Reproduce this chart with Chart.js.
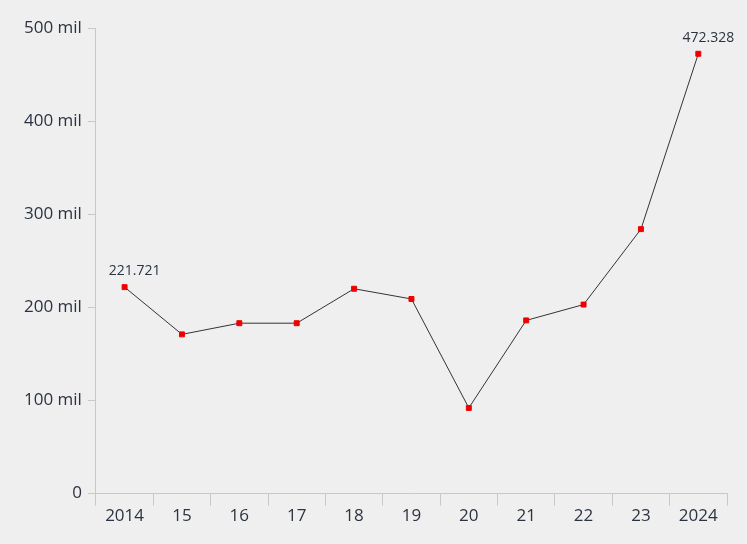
<!DOCTYPE html>
<html>
<head>
<meta charset="utf-8">
<script src="https://cdn.jsdelivr.net/npm/chart.js@4/dist/chart.umd.min.js"></script>
<style>
  html, body { margin: 0; padding: 0; background: #efefef; }
  #wrap { width: 747px; height: 544px; }
</style>
</head>
<body>
<div id="wrap"><canvas id="chart"></canvas></div>
<script>
// ===== Data =====
const years = ['2014', '15', '16', '17', '18', '19', '20', '21', '22', '23', '2024'];
const values = [221.721, 171, 183, 183, 220, 209, 92, 186, 203, 284, 472.328];
const yTicks = [0, 100, 200, 300, 400, 500];
const labelled = [0, 10];

// ===== Labels on first/last point =====
const pointLabels = {
    id: 'pointLabels',
    afterDatasetsDraw(chart) {
        const ctx = chart.ctx;
        const meta = chart.getDatasetMeta(0);
        ctx.save();
        ctx.font = '14px "Open Sans"';
        ctx.fillStyle = '#2b3340';
        ctx.textAlign = 'center';
        ctx.textBaseline = 'bottom';
        labelled.forEach(i => {
            const p = meta.data[i];
            ctx.fillText(values[i].toFixed(3), p.x + 10, p.y - 9);
        });
        ctx.restore();
    }
};

new Chart(document.getElementById('chart'), {
    type: 'line',
    data: {
        labels: years,
        datasets: [{
            data: values,
            borderColor: '#333',
            borderWidth: 1,
            pointStyle: 'rect',
            pointRadius: 3.5,
            pointBackgroundColor: '#ee0000',
            pointBorderColor: '#ee0000',
            tension: 0
        }]
    },
    options: {
        responsive: true,
        maintainAspectRatio: false,
        animation: false,
        layout: { padding: { top: 28, right: 20, left: 18, bottom: 18 } },
        plugins: { legend: { display: false }, tooltip: { enabled: false } },
        scales: {
            x: {
                offset: true,
                grid: { offset: true, drawOnChartArea: false, color: '#c8c8c8', tickLength: 12 },
                border: { color: '#c8c8c8' },
                ticks: { color: '#2b3340', font: { family: 'Open Sans', size: 17 }, padding: 0 }
            },
            y: {
                min: 0, max: 500,
                afterBuildTicks: axis => { axis.ticks = yTicks.map(v => ({ value: v })); },
                grid: { drawOnChartArea: false, color: '#c8c8c8', tickLength: 8 },
                border: { color: '#c8c8c8' },
                ticks: {
                    color: '#2b3340', font: { family: 'Open Sans', size: 17 }, padding: 6,
                    callback: v => v === 0 ? '0' : v + ' mil'
                }
            }
        }
    },
    plugins: [pointLabels]
});
</script>
</body>
</html>
